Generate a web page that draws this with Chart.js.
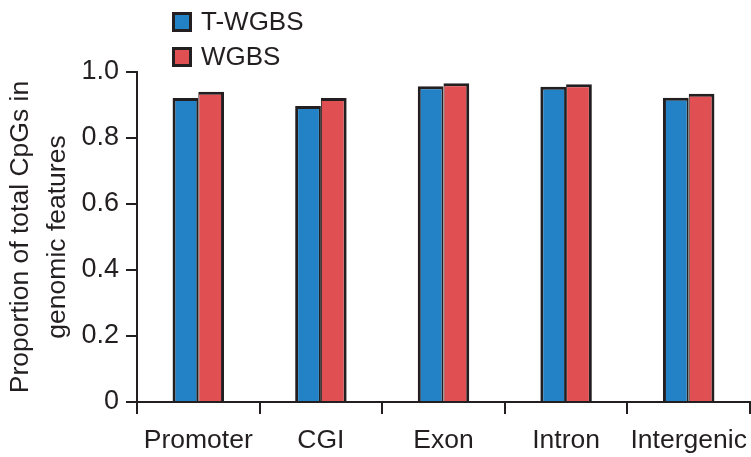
<!DOCTYPE html>
<html>
<head>
<meta charset="utf-8">
<script src="https://cdn.jsdelivr.net/npm/chart.js@4.4.1/dist/chart.umd.min.js"></script>
<style>
  html, body { margin: 0; padding: 0; background: #ffffff; }
  #wrap { position: relative; width: 751px; height: 457px; }
</style>
</head>
<body>
<div id="wrap"><canvas id="c" width="751" height="457"></canvas></div>
<script>
// Genomic feature categories
const categories = ['Promoter', 'CGI', 'Exon', 'Intron', 'Intergenic'];

// Proportion of total CpGs covered in each feature
const tWgbsValues = [0.921, 0.897, 0.957, 0.955, 0.922];
const wgbsValues  = [0.940, 0.921, 0.966, 0.963, 0.934];

// Y axis ticks and their printed labels
const yTickValues = [0, 0.2, 0.4, 0.6, 0.8, 1.0];
const yTickLabels = ['0', '0.2', '0.4', '0.6', '0.8', '1.0'];

const INK = '#231f20';
const FONT = "'Liberation Sans', Arial, Helvetica, sans-serif";

// Stacked square legend drawn in the top-left corner
const stackedLegend = {
  id: 'stackedLegend',
  afterDraw(chart) {
    const ctx = chart.ctx;
    const x0 = chart.chartArea.left + 35;
    const rowH = 35;
    const box = 20;
    ctx.save();
    ctx.font = '26px ' + FONT;
    ctx.textBaseline = 'middle';
    ctx.textAlign = 'left';
    chart.data.datasets.forEach((ds, i) => {
      const cy = 22 + i * rowH;
      ctx.fillStyle = INK;
      ctx.fillRect(x0, cy - box / 2, box, box);
      ctx.fillStyle = ds.backgroundColor;
      ctx.fillRect(x0 + 3, cy - box / 2 + 3, box - 6, box - 6);
      ctx.fillStyle = INK;
      ctx.fillText(ds.label, x0 + 29, cy + 1);
    });
    ctx.restore();
  }
};

new Chart(document.getElementById('c'), {
  type: 'bar',
  data: {
    labels: categories,
    datasets: [
      {
        label: 'T-WGBS',
        data: tWgbsValues,
        backgroundColor: '#2381c6',
        borderColor: INK,
        borderWidth: { top: 3, left: 3, right: 2, bottom: 0 },
        borderSkipped: 'start'
      },
      {
        label: 'WGBS',
        data: wgbsValues,
        backgroundColor: '#e05052',
        borderColor: INK,
        borderWidth: { top: 3, left: 1, right: 3, bottom: 0 },
        borderSkipped: 'start'
      }
    ]
  },
  options: {
    responsive: false,
    animation: false,
    devicePixelRatio: 1,
    layout: { padding: { top: 72, right: 1, left: 0, bottom: 0 } },
    datasets: {
      bar: { categoryPercentage: 0.42, barPercentage: 1.0 }
    },
    plugins: {
      legend: { display: false },
      tooltip: { enabled: false }
    },
    scales: {
      x: {
        offset: true,
        grid: {
          display: true,
          offset: true,
          drawOnChartArea: false,
          drawTicks: true,
          tickLength: 12,
          color: INK,
          lineWidth: 2
        },
        border: { display: true, color: INK, width: 2 },
        ticks: {
          color: INK,
          font: { family: FONT, size: 26.5 },
          padding: 11,
          maxRotation: 0,
          autoSkip: false
        },
        afterFit(scale) {
          scale.height = 55;
          scale.paddingLeft = 0;
          scale.paddingRight = 0;
        }
      },
      y: {
        min: 0,
        max: 1,
        afterBuildTicks(scale) {
          scale.ticks = yTickValues.map(v => ({ value: v }));
        },
        grid: {
          display: true,
          drawOnChartArea: false,
          drawTicks: true,
          tickLength: 11,
          color: INK,
          lineWidth: 2
        },
        border: { display: true, color: INK, width: 2 },
        ticks: {
          color: INK,
          font: { family: FONT, size: 27 },
          padding: 7,
          callback(value, index) { return yTickLabels[index]; }
        },
        title: {
          display: true,
          text: ['Proportion of total CpGs in', 'genomic features'],
          color: INK,
          font: { family: FONT, size: 26.5, lineHeight: 1.37 },
          padding: { top: 3, bottom: 0 }
        },
        afterFit(scale) { scale.width = 137; }
      }
    }
  },
  plugins: [stackedLegend]
});
</script>
</body>
</html>
